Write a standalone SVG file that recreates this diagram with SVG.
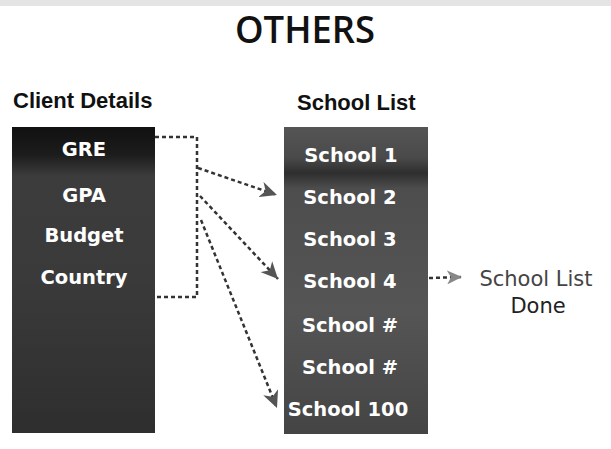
<svg xmlns="http://www.w3.org/2000/svg" width="611" height="449" viewBox="0 0 611 449">
  <style>
    .title { font-family: "Open Sans", "Liberation Sans", sans-serif; font-weight: 600; font-size: 38px; fill: #111; }
    .hdr { font-family: "Liberation Sans", Arial, sans-serif; font-weight: bold; font-size: 22px; fill: #111; }
    .item { font-family: "DejaVu Sans", "Liberation Sans", sans-serif; font-weight: bold; font-size: 19.5px; fill: #fff; text-anchor: middle; }
    .note { font-family: "DejaVu Sans", "Liberation Sans", sans-serif; font-size: 21px; text-anchor: middle; }
    .dash { fill: none; stroke: #333; stroke-width: 2.5; stroke-dasharray: 4 3; }
  </style>
  <defs>
    <linearGradient id="gLeft" x1="0" y1="0" x2="0" y2="1">
      <stop offset="0" stop-color="#111"/>
      <stop offset="0.09" stop-color="#1c1c1c"/>
      <stop offset="0.16" stop-color="#3c3c3c"/>
      <stop offset="0.5" stop-color="#3a3a3a"/>
      <stop offset="1" stop-color="#2e2e2e"/>
    </linearGradient>
    <linearGradient id="gRight" x1="0" y1="0" x2="0" y2="1">
      <stop offset="0" stop-color="#555"/>
      <stop offset="0.1" stop-color="#4a4a4a"/>
      <stop offset="0.15" stop-color="#2e2e2e"/>
      <stop offset="0.2" stop-color="#4d4d4d"/>
      <stop offset="0.6" stop-color="#555"/>
      <stop offset="1" stop-color="#444"/>
    </linearGradient>
    <marker id="ah" markerUnits="userSpaceOnUse" markerWidth="18" markerHeight="16" refX="17" refY="8" orient="auto">
      <path d="M0,0 L17,8 L0,16 L5,8 z" fill="#555"/>
    </marker>
    <marker id="ahLight" markerUnits="userSpaceOnUse" markerWidth="16" markerHeight="14" refX="15" refY="7" orient="auto">
      <path d="M0,0 L15,7 L0,14 L4,7 z" fill="#888"/>
    </marker>
  </defs>

  <rect x="0" y="0" width="611" height="6" fill="#e4e4e4"/>

  <text class="title" x="305" y="43" text-anchor="middle" textLength="140" lengthAdjust="spacingAndGlyphs">OTHERS</text>

  <g id="client-details">
    <text class="hdr" x="13" y="108">Client Details</text>
    <rect x="12" y="127" width="143" height="306" fill="url(#gLeft)"/>
    <text class="item" x="84" y="156">GRE</text>
    <text class="item" x="84" y="202">GPA</text>
    <text class="item" x="84" y="242">Budget</text>
    <text class="item" x="84" y="284">Country</text>
  </g>

  <g id="school-list">
    <text class="hdr" x="297" y="110">School List</text>
    <rect x="284" y="127" width="144" height="307" fill="url(#gRight)"/>
    <text class="item" x="351" y="162">School 1</text>
    <text class="item" x="350" y="204">School 2</text>
    <text class="item" x="350" y="246">School 3</text>
    <text class="item" x="350" y="288">School 4</text>
    <text class="item" x="350" y="332">School #</text>
    <text class="item" x="350" y="374">School #</text>
    <text class="item" x="348" y="416">School 100</text>
  </g>

  <g id="done">
    <text class="note" x="536" y="286" fill="#444">School List</text>
    <text class="note" x="538" y="313" fill="#222">Done</text>
  </g>

  <g id="connectors">
    <path class="dash" d="M155,137 H197 V297 H155"/>
    <path class="dash" d="M198,168 L277,195" marker-end="url(#ah)"/>
    <path class="dash" d="M200,196 L278,279" marker-end="url(#ah)"/>
    <path class="dash" d="M201,220 L277,408" marker-end="url(#ah)"/>
    <path class="dash" d="M429,278 L462,277" stroke="#555" stroke-width="2" marker-end="url(#ahLight)"/>
  </g>
</svg>
